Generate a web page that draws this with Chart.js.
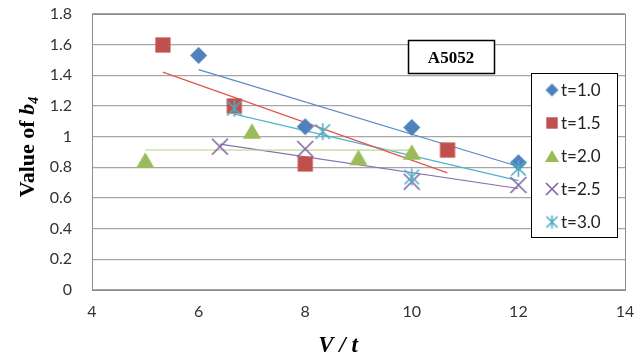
<!DOCTYPE html>
<html>
<head>
<meta charset="utf-8">
<script src="https://cdn.jsdelivr.net/npm/chart.js@4"></script>
<style>
  html, body { margin: 0; padding: 0; background: #fff; }
  #wrap { width: 644px; height: 358px; }
</style>
</head>
<body>
<div id="wrap"><canvas id="chart" width="644" height="358"></canvas></div>
<script>
// series labels and values
const seriesNames = ['t=1.0', 't=1.5', 't=2.0', 't=2.5', 't=3.0'];
const xT10 = [6, 8, 10, 12];
const yT10 = [1.53, 1.065, 1.06, 0.83];
const xT15 = [5.33, 6.67, 8, 10.67];
const yT15 = [1.598, 1.20, 0.822, 0.913];
const xT20 = [5, 7, 9, 10];
const yT20 = [0.848, 1.037, 0.865, 0.90];
const xT25 = [6.4, 8, 10, 12];
const yT25 = [0.935, 0.92, 0.706, 0.685];
const xT30 = [6.67, 8.33, 10, 12];
const yT30 = [1.185, 1.033, 0.737, 0.794];
const xTicks = [4, 6, 8, 10, 12, 14];
const yTicks = [0, 0.2, 0.4, 0.6, 0.8, 1, 1.2, 1.4, 1.6, 1.8];

const colors = ['#4F81BD', '#C0504D', '#9BBB59', '#8064A2', '#4BACC6'];
const trendColors = ['#5A8AC6', '#E0574F', '#BCD38E', '#8A6DAE', '#4FB3CF'];
const markers = ['diamond', 'square', 'triangle', 'x', 'star'];
const xs = [xT10, xT15, xT20, xT25, xT30];
const ys = [yT10, yT15, yT20, yT25, yT30];

// marker images, centred on their bounding box like Excel does
function makeMarker(kind, color, s) {
  const c = document.createElement('canvas');
  const n = Math.ceil(s) + 4;
  c.width = n; c.height = n;
  const g = c.getContext('2d');
  const m = n / 2, h = s / 2;
  g.fillStyle = color;
  g.strokeStyle = color;
  if (kind === 'diamond') {
    g.beginPath();
    g.moveTo(m, m - h); g.lineTo(m + h, m); g.lineTo(m, m + h); g.lineTo(m - h, m);
    g.closePath(); g.fill();
  } else if (kind === 'square') {
    g.fillRect(m - h * 0.95, m - h * 0.95, h * 1.9, h * 1.9);
  } else if (kind === 'triangle') {
    const th = s * 0.85;
    g.beginPath();
    g.moveTo(m, m - th / 2); g.lineTo(m + h, m + th / 2); g.lineTo(m - h, m + th / 2);
    g.closePath(); g.fill();
  } else if (kind === 'x') {
    g.lineWidth = 1.6;
    g.beginPath();
    g.moveTo(m - h, m - h); g.lineTo(m + h, m + h);
    g.moveTo(m + h, m - h); g.lineTo(m - h, m + h);
    g.stroke();
  } else {
    g.lineWidth = 1.6;
    g.beginPath();
    g.moveTo(m - h * 0.85, m - h * 0.85); g.lineTo(m + h * 0.85, m + h * 0.85);
    g.moveTo(m + h * 0.85, m - h * 0.85); g.lineTo(m - h * 0.85, m + h * 0.85);
    g.moveTo(m, m - h); g.lineTo(m, m + h);
    g.stroke();
  }
  return c;
}

const pointSizes = [17, 16, 18, 16, 17];
const legendSizes = [13, 12, 14, 12, 13];
const pointImgs = markers.map((k, i) => makeMarker(k, colors[i], pointSizes[i]));
const legendImgs = markers.map((k, i) => makeMarker(k, colors[i], legendSizes[i]));

// linear least-squares trendline, drawn over the data range
function trend(x, y) {
  const n = x.length;
  const mx = x.reduce((a, b) => a + b, 0) / n;
  const my = y.reduce((a, b) => a + b, 0) / n;
  let sxy = 0, sxx = 0;
  for (let i = 0; i < n; i++) {
    sxy += (x[i] - mx) * (y[i] - my);
    sxx += (x[i] - mx) * (x[i] - mx);
  }
  const b = sxy / sxx, a = my - b * mx;
  const x0 = Math.min(...x), x1 = Math.max(...x);
  return [{ x: x0, y: a + b * x0 }, { x: x1, y: a + b * x1 }];
}

const datasets = [];
seriesNames.forEach((name, i) => {
  datasets.push({
    label: name,
    data: xs[i].map((x, j) => ({ x: x, y: ys[i][j] })),
    pointStyle: pointImgs[i],
    pointRadius: 8,
    showLine: false,
    order: 5 - i
  });
});
seriesNames.forEach((name, i) => {
  datasets.push({
    label: name + ' trend',
    data: trend(xs[i], ys[i]),
    showLine: true,
    borderColor: trendColors[i],
    borderWidth: 1.2,
    pointRadius: 0,
    order: 20
  });
});

const decor = {
  id: 'decor',
  beforeDatasetsDraw(chart) {
    const { ctx, chartArea: a } = chart;
    ctx.save();
    ctx.strokeStyle = '#8C8C8C';
    ctx.lineWidth = 1;
    ctx.strokeRect(Math.round(a.left) + 0.5, Math.round(a.top) + 0.5,
      Math.round(a.right - a.left), Math.round(a.bottom - a.top));
    ctx.restore();
  },
  afterDraw(chart) {
    const ctx = chart.ctx;
    ctx.save();
    // label box
    ctx.fillStyle = '#fff';
    ctx.fillRect(408, 40, 86, 33);
    ctx.strokeStyle = '#000';
    ctx.lineWidth = 1.5;
    ctx.strokeRect(408.5, 40.5, 86, 33);
    ctx.fillStyle = '#000';
    ctx.font = 'bold 17px "Liberation Serif"';
    ctx.textAlign = 'center';
    ctx.textBaseline = 'alphabetic';
    ctx.fillText('A5052', 451, 63);

    // legend
    ctx.fillStyle = '#fff';
    ctx.fillRect(531, 73, 86, 164);
    ctx.lineWidth = 1;
    ctx.strokeRect(531.5, 73.5, 86, 164);
    ctx.font = '17px Lato';
    ctx.textAlign = 'left';
    ctx.textBaseline = 'middle';
    ctx.fillStyle = '#222';
    const rows = [90, 123, 156, 189, 222];
    seriesNames.forEach((name, i) => {
      const img = legendImgs[i];
      ctx.drawImage(img, 552 - img.width / 2, rows[i] - img.height / 2);
      ctx.fillText(name, 561, rows[i] + 1);
    });

    // x title
    ctx.fillStyle = '#000';
    ctx.textBaseline = 'alphabetic';
    ctx.font = 'italic bold 23px "Liberation Serif"';
    ctx.textAlign = 'center';
    ctx.fillText('V / t', 338, 352);

    // y title, rotated, with italic b and subscript 4
    ctx.translate(34, 147);
    ctx.rotate(-Math.PI / 2);
    const p1 = 'Value of ';
    ctx.font = 'bold 22px "Liberation Serif"';
    const w1 = ctx.measureText(p1).width;
    ctx.font = 'italic bold 22px "Liberation Serif"';
    const w2 = ctx.measureText('b').width;
    ctx.font = 'italic bold 14px "Liberation Serif"';
    const w3 = ctx.measureText('4').width;
    let x = -(w1 + w2 + w3) / 2;
    ctx.textAlign = 'left';
    ctx.font = 'bold 22px "Liberation Serif"';
    ctx.fillText(p1, x, 0);
    x += w1;
    ctx.font = 'italic bold 22px "Liberation Serif"';
    ctx.fillText('b', x, 0);
    x += w2;
    ctx.font = 'italic bold 14px "Liberation Serif"';
    ctx.fillText('4', x, 4);
    ctx.restore();
  }
};

new Chart(document.getElementById('chart'), {
  type: 'scatter',
  data: { datasets: datasets },
  options: {
    responsive: false,
    animation: false,
    devicePixelRatio: 1,
    layout: { padding: { top: 14, right: 19, left: 0, bottom: 0 } },
    plugins: { legend: { display: false }, tooltip: { enabled: false } },
    scales: {
      x: {
        type: 'linear',
        min: xTicks[0],
        max: xTicks[xTicks.length - 1],
        afterBuildTicks: s => { s.ticks = xTicks.map(v => ({ value: v })); },
        afterFit: s => { s.height = 68; s.paddingLeft = 0; s.paddingRight = 0; },
        grid: { display: false, drawTicks: false },
        border: { display: false },
        ticks: { color: '#333', font: { family: 'Lato', size: 16 }, padding: 12 }
      },
      y: {
        type: 'linear',
        min: yTicks[0],
        max: yTicks[yTicks.length - 1],
        afterBuildTicks: s => { s.ticks = yTicks.map(v => ({ value: v })); },
        afterFit: s => { s.width = 92; s.paddingTop = 0; s.paddingBottom = 0; },
        grid: { color: '#A6A6A6', lineWidth: 1.3, drawTicks: false },
        border: { display: false },
        ticks: {
          color: '#333',
          font: { family: 'Lato', size: 16 },
          padding: 20,
          callback: v => String(+v.toFixed(1))
        }
      }
    }
  },
  plugins: [decor]
});
</script>
</body>
</html>
